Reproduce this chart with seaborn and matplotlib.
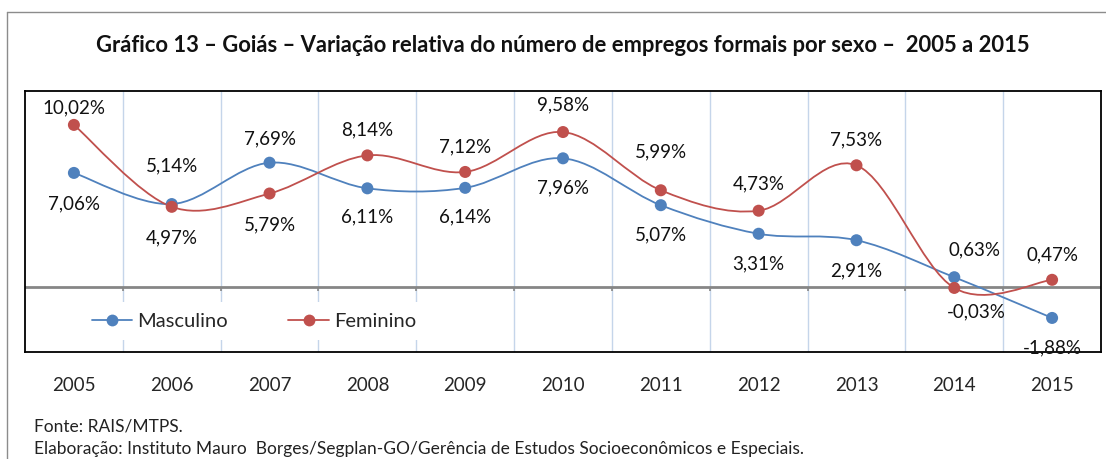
import numpy as np
import pandas as pd
import seaborn as sns
import matplotlib.pyplot as plt
from matplotlib.path import Path
from matplotlib.patches import PathPatch
from matplotlib.lines import Line2D

# data
anos = ['2005', '2006', '2007', '2008', '2009', '2010', '2011', '2012', '2013', '2014', '2015']
masculino = [7.06, 5.14, 7.69, 6.11, 6.14, 7.96, 5.07, 3.31, 2.91, 0.63, -1.88]
feminino = [10.02, 4.97, 5.79, 8.14, 7.12, 9.58, 5.99, 4.73, 7.53, -0.03, 0.47]

# label placement (pixel offsets dx, dy)
pos_masc = [(0, -31), (0, 38), (0, 24), (0, -29), (0, -29), (0, -30), (0, -30), (0, -30), (0, -31), (20, 27), (0, -30)]
pos_fem = [(0, 17), (0, -31), (0, -31), (0, 26), (0, 25), (0, 27), (0, 38), (0, 27), (0, 25), (22, -24), (0, 25)]

# colors
blue = '#4F81BD'
red = '#C0504D'

sns.set_style('white')
plt.rcParams['font.family'] = ['Lato', 'DejaVu Sans']

df = pd.DataFrame({'x': list(range(len(anos))) * 2,
                   'valor': masculino + feminino,
                   'Sexo': ['Masculino'] * len(anos) + ['Feminino'] * len(anos)})

fig = plt.figure(figsize=(11.06, 4.59), dpi=100)
ax = fig.add_axes([25 / 1106, 1 - 352 / 459, 1076 / 1106, 261 / 459])


# smooth line like excel (bezier through the points)
def smooth_path(xs, ys):
    pts = np.column_stack([xs, ys]).astype(float)
    verts = [pts[0]]
    codes = [Path.MOVETO]
    n = len(pts)
    for i in range(n - 1):
        p0 = pts[i - 1] if i > 0 else pts[i]
        p1 = pts[i]
        p2 = pts[i + 1]
        p3 = pts[i + 2] if i + 2 < n else pts[i + 1]
        c1 = p1 + (p2 - p0) / 6
        c2 = p2 - (p3 - p1) / 6
        verts += [c1, c2, p2]
        codes += [Path.CURVE4] * 3
    return Path(verts, codes)


xs = np.arange(len(anos))
for vals, col in [(masculino, blue), (feminino, red)]:
    ax.add_patch(PathPatch(smooth_path(xs, vals), facecolor='none', edgecolor=col, lw=1.3, zorder=3))

sns.scatterplot(data=df, x='x', y='valor', hue='Sexo', palette={'Masculino': blue, 'Feminino': red},
                s=75, edgecolor='none', legend=False, ax=ax, zorder=4, clip_on=False)

# data labels
for vals, pos in [(masculino, pos_masc), (feminino, pos_fem)]:
    for i, v in enumerate(vals):
        txt = ('%.2f%%' % v).replace('.', ',')
        ax.annotate(txt, (i, v), xytext=pos[i], textcoords='offset pixels',
                    ha='center', va='center', fontsize=13.5, color='#111111', zorder=6)

# axes
ax.set_xlim(-0.5, len(anos) - 0.5)
ax.set_ylim(-3.98, 12.11)
ax.set_xticks(xs)
ax.set_xticklabels(anos, fontsize=13.5)
ax.set_xticks(np.arange(0.5, len(anos) - 0.5, 1), minor=True)
ax.tick_params(axis='x', which='both', length=0, pad=18)
ax.set_yticks([])
ax.set_xlabel('')
ax.set_ylabel('')
ax.grid(axis='x', which='minor', color='#C5D5EA', lw=1)
ax.grid(axis='x', which='major', visible=False)
for sp in ax.spines.values():
    sp.set_color('black')
    sp.set_linewidth(1.3)
ax.axhline(0, color='#868686', lw=2, zorder=2)
ax.vlines(np.arange(0.5, len(anos) - 0.5, 1), -0.25, 0, color='#868686', lw=1.2, zorder=2)

# legend
handles = [Line2D([], [], color=blue, lw=1.3, marker='o', markersize=8.5, markeredgecolor='none'),
           Line2D([], [], color=red, lw=1.3, marker='o', markersize=8.5, markeredgecolor='none')]
leg = ax.legend(handles, ['Masculino', 'Feminino'], loc='center', bbox_to_anchor=(229 / 1076, (352 - 321) / 261),
                ncol=2, frameon=True, fontsize=14.5, handlelength=2.0, handletextpad=0.25, columnspacing=3.0,
                borderpad=0.5)
leg.get_frame().set_facecolor('white')
leg.get_frame().set_edgecolor('none')
leg.get_frame().set_alpha(1)
leg.set_zorder(5)

# title and notes
fig.text(563 / 1106, 1 - 45 / 459, 'Gráfico 13 – Goiás – Variação relativa do número de empregos formais por sexo –  2005 a 2015',
         ha='center', va='center', fontsize=15.8, fontweight='bold', color='#111111')
fig.text(34 / 1106, 1 - 427 / 459, 'Fonte: RAIS/MTPS.', ha='left', va='center', fontsize=12.5, color='#222222')
fig.text(34 / 1106, 1 - 449 / 459,
         'Elaboração: Instituto Mauro  Borges/Segplan-GO/Gerência de Estudos Socioeconômicos e Especiais.',
         ha='left', va='center', fontsize=12.5, color='#222222')

# outer frame
fig.add_artist(Line2D([7 / 1106, 1], [1 - 12 / 459, 1 - 12 / 459], color='#8C8C8C', lw=1))
fig.add_artist(Line2D([7 / 1106, 7 / 1106], [0, 1 - 12 / 459], color='#8C8C8C', lw=1))

fig.savefig('out.png', dpi=100)
